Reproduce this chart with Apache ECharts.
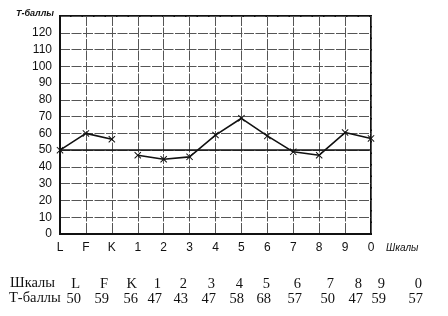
<!DOCTYPE html>
<html><head><meta charset="utf-8">
<script src="https://cdn.jsdelivr.net/npm/echarts@6/dist/echarts.min.js"></script>
<style>html,body{margin:0;padding:0;background:#fff}#c{width:448px;height:316px}</style>
</head><body><div id="c"></div>
<script>
const scales = ['L','F','K','1','2','3','4','5','6','7','8','9','0'];
const plotted = [50, 60, 56.5, 47, 44.6, 46, 59, 69, 58.5, 49, 47, 60.5, 57];
const tableScores = ['50','59','56','47','43','47','58','68','57','50','47','59','57'];
const yTicks = [0,10,20,30,40,50,60,70,80,90,100,110,120];
const groupA = ['L','F','K'];

const tableX = [80, 108, 137, 161, 187, 215, 243, 270, 301, 334, 362, 385, 422];

const chart = echarts.init(document.getElementById('c'));
const seriesA = scales.map((s,i)=> groupA.includes(s) ? plotted[i] : null);
const seriesB = scales.map((s,i)=> groupA.includes(s) ? null : plotted[i]);
const crossPath = 'path://M0,1L1,0L5,4L9,0L10,1L6,5L10,9L9,10L5,6L1,10L0,9L4,5Z';
const tFont = '14.5px "Liberation Serif"';

const graphics = [];
graphics.push({type:'text', left:10, top:276, style:{text:'Шкалы', font:tFont, fill:'#111'}});
graphics.push({type:'text', left:9, top:291, style:{text:'Т-баллы', font:tFont, fill:'#111'}});
scales.forEach((s,i)=>{
  graphics.push({type:'text', x:tableX[i], y:284, style:{text:s, font:tFont, fill:'#111', align:'right', verticalAlign:'middle'}});
  graphics.push({type:'text', x:tableX[i]+1, y:299, style:{text:tableScores[i], font:tFont, fill:'#111', align:'right', verticalAlign:'middle'}});
});

const lineCommon = {
  type:'line', symbol: crossPath, symbolSize: 7, showSymbol:true,
  lineStyle:{color:'#111', width:1.6}, itemStyle:{color:'#111'},
  connectNulls:false, animation:false
};
const gridLine = {color:'#555', width:1, type:[10,1.5]};

chart.setOption({
  animation:false,
  grid:{left:60, right:77, top:16, bottom:82, show:true, borderColor:'#111', borderWidth:2, backgroundColor:'transparent'},
  xAxis:{
    type:'category', data:scales, boundaryGap:false,
    axisLine:{lineStyle:{color:'#111', width:2}}, axisTick:{show:false},
    axisLabel:{color:'#111', fontSize:12, fontFamily:'Liberation Sans', margin:8},
    splitLine:{show:true, lineStyle:gridLine},
    name:'Шкалы', nameLocation:'end', nameGap:15,
    nameTextStyle:{fontStyle:'italic', fontSize:10, fontFamily:'Liberation Sans', color:'#111', align:'left', verticalAlign:'top', padding:[9,0,0,0]}
  },
  yAxis:{
    type:'value', min:0, max:130, interval:10,
    axisLine:{show:true, lineStyle:{color:'#111', width:2}}, axisTick:{show:false},
    axisLabel:{color:'#111', fontSize:12, fontFamily:'Liberation Sans', margin:8,
      formatter: v => yTicks.includes(v) ? String(v) : ''},
    splitLine:{show:true, lineStyle:gridLine},
    name:'Т-баллы', nameLocation:'end', nameGap:2,
    nameTextStyle:{fontStyle:'italic', fontWeight:'bold', fontSize:9, fontFamily:'Liberation Sans', color:'#111', align:'right', verticalAlign:'middle', padding:[0,6,0,0]}
  },
  series:[
    Object.assign({}, lineCommon, {data:seriesA,
      markLine:{silent:true, symbol:'none', label:{show:false}, lineStyle:{color:'#111', width:1.5, type:'solid'}, data:[{yAxis:50}]}}),
    Object.assign({}, lineCommon, {data:seriesB})
  ],
  graphic: graphics
});
</script></body></html>
